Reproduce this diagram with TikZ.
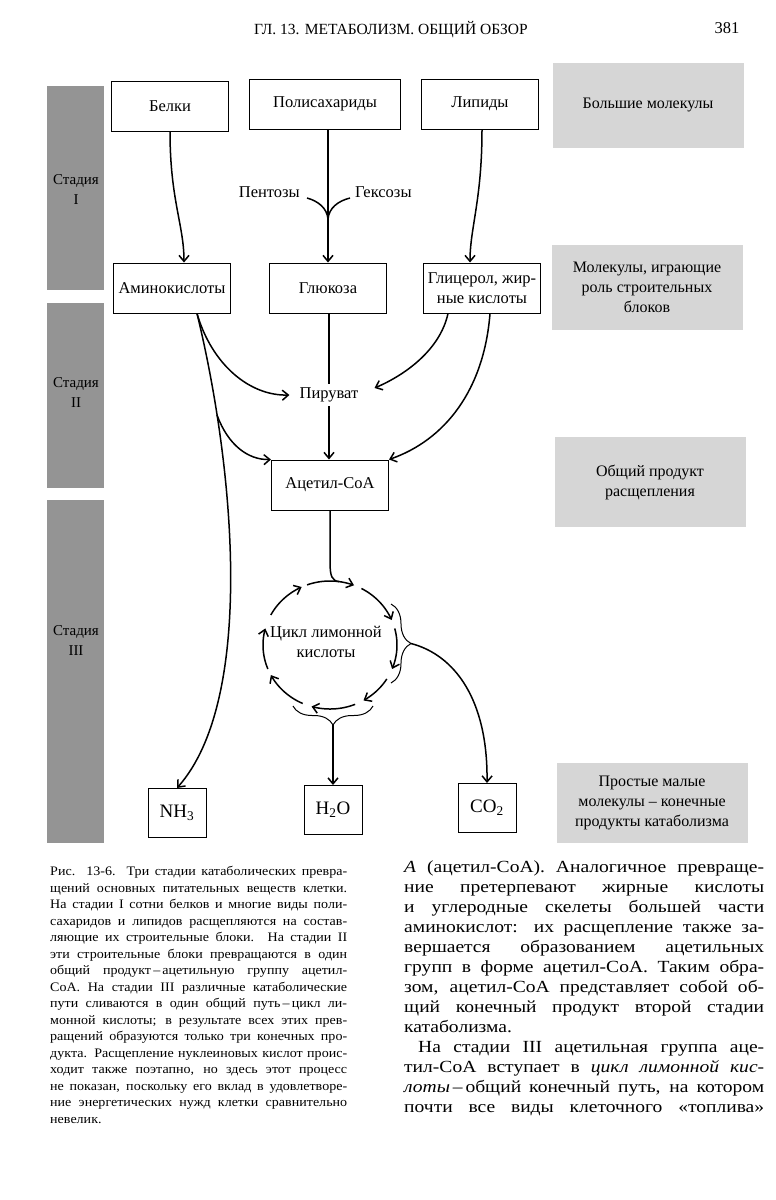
\documentclass[tikz,border=0pt]{standalone}
\usepackage{fontspec}
\setmainfont{Liberation Serif}
\newfontfamily\capfont[FakeStretch=1.08]{Liberation Serif}
\newfontfamily\bodyfont[FakeStretch=1.15]{Liberation Serif}
\usetikzlibrary{arrows.meta,decorations.pathreplacing}

\begin{document}
\begin{tikzpicture}[x=1pt,y=-1pt,
every node/.style={anchor=center,
inner sep=2pt,
font=\fontsize{16.5}{20}\selectfont
},
box/.style={%
draw,line width=1pt,
minimum width=117pt,
minimum height=50pt,
align=center
},
small/.style={%
draw,line width=1pt,
minimum width=58pt,
minimum height=49pt,
font=\fontsize{19}{22}\selectfont
},
shade/.style={%
fill=black!16,
minimum width=191pt,
minimum height=85pt,
align=center,
font=\fontsize{16}{20}\selectfont
},
stagebar/.style={fill=black!42,minimum width=57pt},
stagelabel/.style={align=center,font=\fontsize{15}{20}\selectfont},
link/.style={line width=1.5pt,-{Straight Barb[length=6pt,width=10pt]}},
plain/.style={line width=1.5pt}]
\fill[white] (0,0) rectangle (776,1200);
\useasboundingbox (0,0) rectangle (776,1200);
% page head
\node[font=\fontsize{15.5}{18}\selectfont] (head) at (391,30) {ГЛ. 13. МЕТАБОЛИЗМ. ОБЩИЙ ОБЗОР};
\node (page) at (727,28) {381};
% stages
\node[stagebar,minimum height=204pt] (bar1) at (75.5,188) {};
\node[stagebar,minimum height=185pt] (bar2) at (75.5,395.5) {};
\node[stagebar,minimum height=343pt] (bar3) at (75.5,671.5) {};
\node[stagelabel] (st1) at (76,190) {Стадия\\I};
\node[stagelabel] (st2) at (76,393) {Стадия\\II};
\node[stagelabel] (st3) at (76,641) {Стадия\\III};
% boxes
\node[box] (belki) at (170,106) {Белки};
\node[box,minimum width=151pt] (poly) at (325,104) {Полисахариды};
\node[box] (lipid) at (480,104) {Липиды};
\node[box] (amino) at (172,288) {Аминокислоты};
\node[box] (glu) at (328,288) {Глюкоза};
\node[box] (glyc) at (482,288) {Глицерол, жир-\\ные кислоты};
\node[inner sep=4pt] (pyr) at (329,395) {Пируват};
\node[box] (acet) at (330,485) {Ацетил-СоА};
\node[align=center] (cycle) at (326,642) {Цикл лимонной\\кислоты};
\node[small] (nh3) at (177,813) {NH\textsubscript{3}};
\node[small] (h2o) at (333,810) {H\textsubscript{2}O};
\node[small] (co2) at (487,808) {CO\textsubscript{2}};
\node[anchor=east] (pent) at (302,192) {Пентозы};
\node[anchor=west] (hex) at (353,192) {Гексозы};
% grey notes
\node[shade] (big) at (648,105) {Большие молекулы};
\node[shade] (blocks) at (647,287) {Молекулы, играющие\\роль строительных\\блоков};
\node[shade,minimum height=90pt] (common) at (650,482) {Общий продукт\\расщепления};
\node[shade,minimum height=80pt] (simple) at (652,803) {Простые малые\\молекулы – конечные\\продукты катаболизма};
% stage I
\coordinate (pentend) at (307,198);
\coordinate (hexend) at (350,198);
\coordinate (join) at (328,219);
\draw[link] (belki.south) .. controls (170,200) and (184,225) .. ([xshift=12pt]amino.north);
\draw[link] (glu.north |- poly.south) -- (glu.north);
\draw[link] ([xshift=2pt]lipid.south) .. controls (482,200) and (470,228) .. ([xshift=-12pt]glyc.north);
\draw[plain] (pentend) .. controls (318,201) and (327,208) .. (join);
\draw[plain] (hexend) .. controls (338,201) and (329,208) .. (join);
% stage II
\coordinate (split) at (217,415);
\draw[link] ([xshift=25pt]amino.south) .. controls (212,365) and (250,396) .. ([xshift=-6pt]pyr.west);
\draw[link] ([xshift=25pt]amino.south) .. controls (235,470) and (255,700) .. (nh3.north);
\draw[link] (split) .. controls (228,445) and (248,460) .. (acet.north west);
\draw[plain] (glu.south -| pyr.north) -- (pyr.north);
\draw[link] (pyr.south) -- (pyr.south |- acet.north);
\draw[link] ([xshift=-34pt]glyc.south) .. controls (440,350) and (405,375) .. ([xshift=12pt,yshift=7pt]pyr.east);
\draw[link] ([xshift=8pt]glyc.south) .. controls (484,390) and (445,440) .. (acet.north east);
% stage III
\coordinate (bend) at (330,562);
\coordinate (cycin) at (339.3,581.6);
\draw[plain] (acet.south) -- (bend) .. controls (330,576) and (332,581.2) .. (cycin);
\foreach \s/\e in {-152/-115,-110/-69,-62/-23,-15/22,32/60,68/106,114/152,158/195}
  \draw[link] plot[domain=\s:\e,samples=30] ({330+67*cos(\x)},{645+64*sin(\x)});
\coordinate (rbtop) at (391,604);
\coordinate (rbbot) at (391,683);
\coordinate (rbtip) at (411,643.5);
\coordinate (bbright) at (373,706);
\coordinate (bbleft) at (293,706);
\coordinate (bbtip) at (333,725);
\draw[line width=1pt,decorate,decoration={brace,amplitude=20pt}] (rbtop) -- (rbbot);
\draw[line width=1pt,decorate,decoration={brace,amplitude=19pt}] (bbright) -- (bbleft);
\draw[link] (rbtip) .. controls (455,655) and (488,700) .. (co2.north);
\draw[link] (bbtip) -- (bbtip |- h2o.north);
% text below
\node[anchor=north west,inner sep=0pt,text width=297pt,align=justify,
font=\capfont\fontsize{13}{16.5}\selectfont] (caption) at (50,866) {\tolerance=10000
Рис. 13-6. Три стадии катаболических превра-\linebreak
щений основных питательных веществ клетки.\linebreak
На стадии I сотни белков и многие виды поли-\linebreak
сахаридов и липидов расщепляются на состав-\linebreak
ляющие их строительные блоки. На стадии II\linebreak
эти строительные блоки превращаются в один\linebreak
общий продукт\,–\,ацетильную группу ацетил-\linebreak
СоА. На стадии III различные катаболические\linebreak
пути сливаются в один общий путь\,–\,цикл ли-\linebreak
монной кислоты; в результате всех этих прев-\linebreak
ращений образуются только три конечных про-\linebreak
дукта. Расщепление нуклеиновых кислот проис-\linebreak
ходит также поэтапно, но здесь этот процесс\linebreak
не показан, поскольку его вклад в удовлетворе-\linebreak
ние энергетических нужд клетки сравнительно\linebreak
невелик.};
\node[anchor=north west,inner sep=0pt,text width=360pt,align=justify,
font=\bodyfont\fontsize{17}{20}\selectfont] (text) at (404,860) {\tolerance=10000
\textit{A} (ацетил-СоА). Аналогичное превраще-\linebreak
ние претерпевают жирные кислоты\linebreak
и углеродные скелеты большей части\linebreak
аминокислот: их расщепление также за-\linebreak
вершается образованием ацетильных\linebreak
групп в форме ацетил-СоА. Таким обра-\linebreak
зом, ацетил-СоА представляет собой об-\linebreak
щий конечный продукт второй стадии\linebreak
катаболизма.\par
\noindent\hspace*{14pt}На стадии III ацетильная группа аце-\linebreak
тил-СоА вступает в \textit{цикл лимонной кис-}\linebreak
\textit{лоты}\,–\,общий конечный путь, на котором\linebreak
почти все виды клеточного «топлива»\parfillskip=0pt\par};
\end{tikzpicture}
\end{document}
